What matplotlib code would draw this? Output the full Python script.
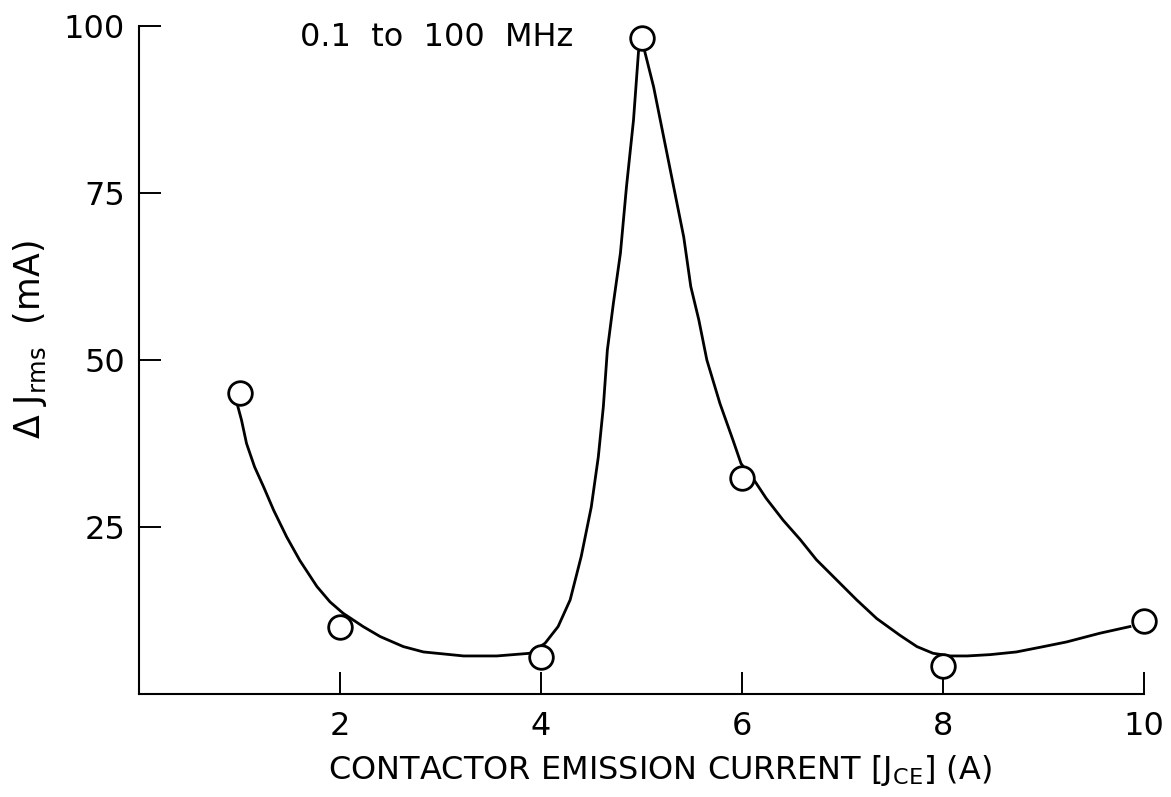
import matplotlib
matplotlib.use("Agg")
import matplotlib.pyplot as plt

# measured points
current = [1, 2, 4, 5, 6, 8, 10]
delta_j = [45.0, 10.0, 5.5, 98.2, 32.3, 4.2, 10.9]

# hand-drawn trend curve
curve_x = [0.97, 1.02, 1.07, 1.15, 1.24, 1.34, 1.47, 1.60, 1.77, 1.90, 2.03,
           2.23, 2.40, 2.63, 2.83, 3.23, 3.56, 3.89, 4.04, 4.17, 4.29, 4.40,
           4.50, 4.57, 4.62, 4.66, 4.72, 4.79, 4.85, 4.92, 4.97, 5.00, 5.02,
           5.12, 5.22, 5.32, 5.42, 5.49, 5.57, 5.65, 5.78, 5.91, 5.99, 6.13,
           6.24, 6.41, 6.58, 6.74, 6.94, 7.14, 7.34, 7.57, 7.74, 7.90, 8.07,
           8.24, 8.47, 8.73, 9.00, 9.23, 9.56, 9.86]
curve_y = [43.8, 41.0, 37.5, 34.0, 31.0, 27.5, 23.5, 20.0, 16.1, 13.8, 12.1,
           10.1, 8.6, 7.1, 6.3, 5.7, 5.7, 6.1, 7.6, 10.1, 14.1, 20.6,
           28.0, 35.5, 43.0, 51.5, 58.5, 66.0, 75.9, 85.9, 96.2, 97.5, 96.9,
           90.9, 83.4, 75.9, 68.4, 61.0, 56.0, 50.0, 43.5, 38.0, 34.5, 31.8,
           29.3, 26.0, 23.1, 20.1, 17.1, 14.1, 11.3, 8.8, 7.1, 6.1, 5.7,
           5.7, 5.9, 6.3, 7.1, 7.8, 9.1, 10.1]

x_ticks = [2, 4, 6, 8, 10]
y_ticks = [25, 50, 75, 100]

plt.rcParams['font.family'] = ['DejaVu Sans']
fs = 23

fig = plt.figure(figsize=(11.71, 7.97), dpi=100)
ax = fig.add_axes([0.1187, 0.1292, 0.977 - 0.1187, 0.9674 - 0.1292])

ax.plot(curve_x, curve_y, color='black', lw=2.0, zorder=2,
        solid_joinstyle='round')
ax.plot(current, delta_j, 'o', ms=17, mfc='white', mec='black', mew=2.0,
        clip_on=False, zorder=3)

ax.set_xlim(0, 10)
ax.set_ylim(0, 100)
ax.set_xticks(x_ticks)
ax.set_yticks(y_ticks)
ax.tick_params(direction='in', length=16, width=1.4, labelsize=fs, pad=10)
ax.tick_params(axis='x', pad=12)

for side in ['top', 'right']:
    ax.spines[side].set_visible(False)
for side in ['left', 'bottom']:
    ax.spines[side].set_linewidth(1.5)

ax.set_xlabel(r'CONTACTOR EMISSION CURRENT [J$_{\mathregular{CE}}$] (A)',
              fontsize=fs)
ax.xaxis.set_label_coords(0.518, -0.088)
ax.set_ylabel(r'$\Delta$ J$_{\mathregular{rms}}$  (mA)', fontsize=25)
ax.yaxis.set_label_coords(-0.09, 0.53)

ax.text(1.6, 98.3, '0.1  to  100  MHz', fontsize=fs, ha='left', va='center')

fig.savefig('out.png', dpi=100)
